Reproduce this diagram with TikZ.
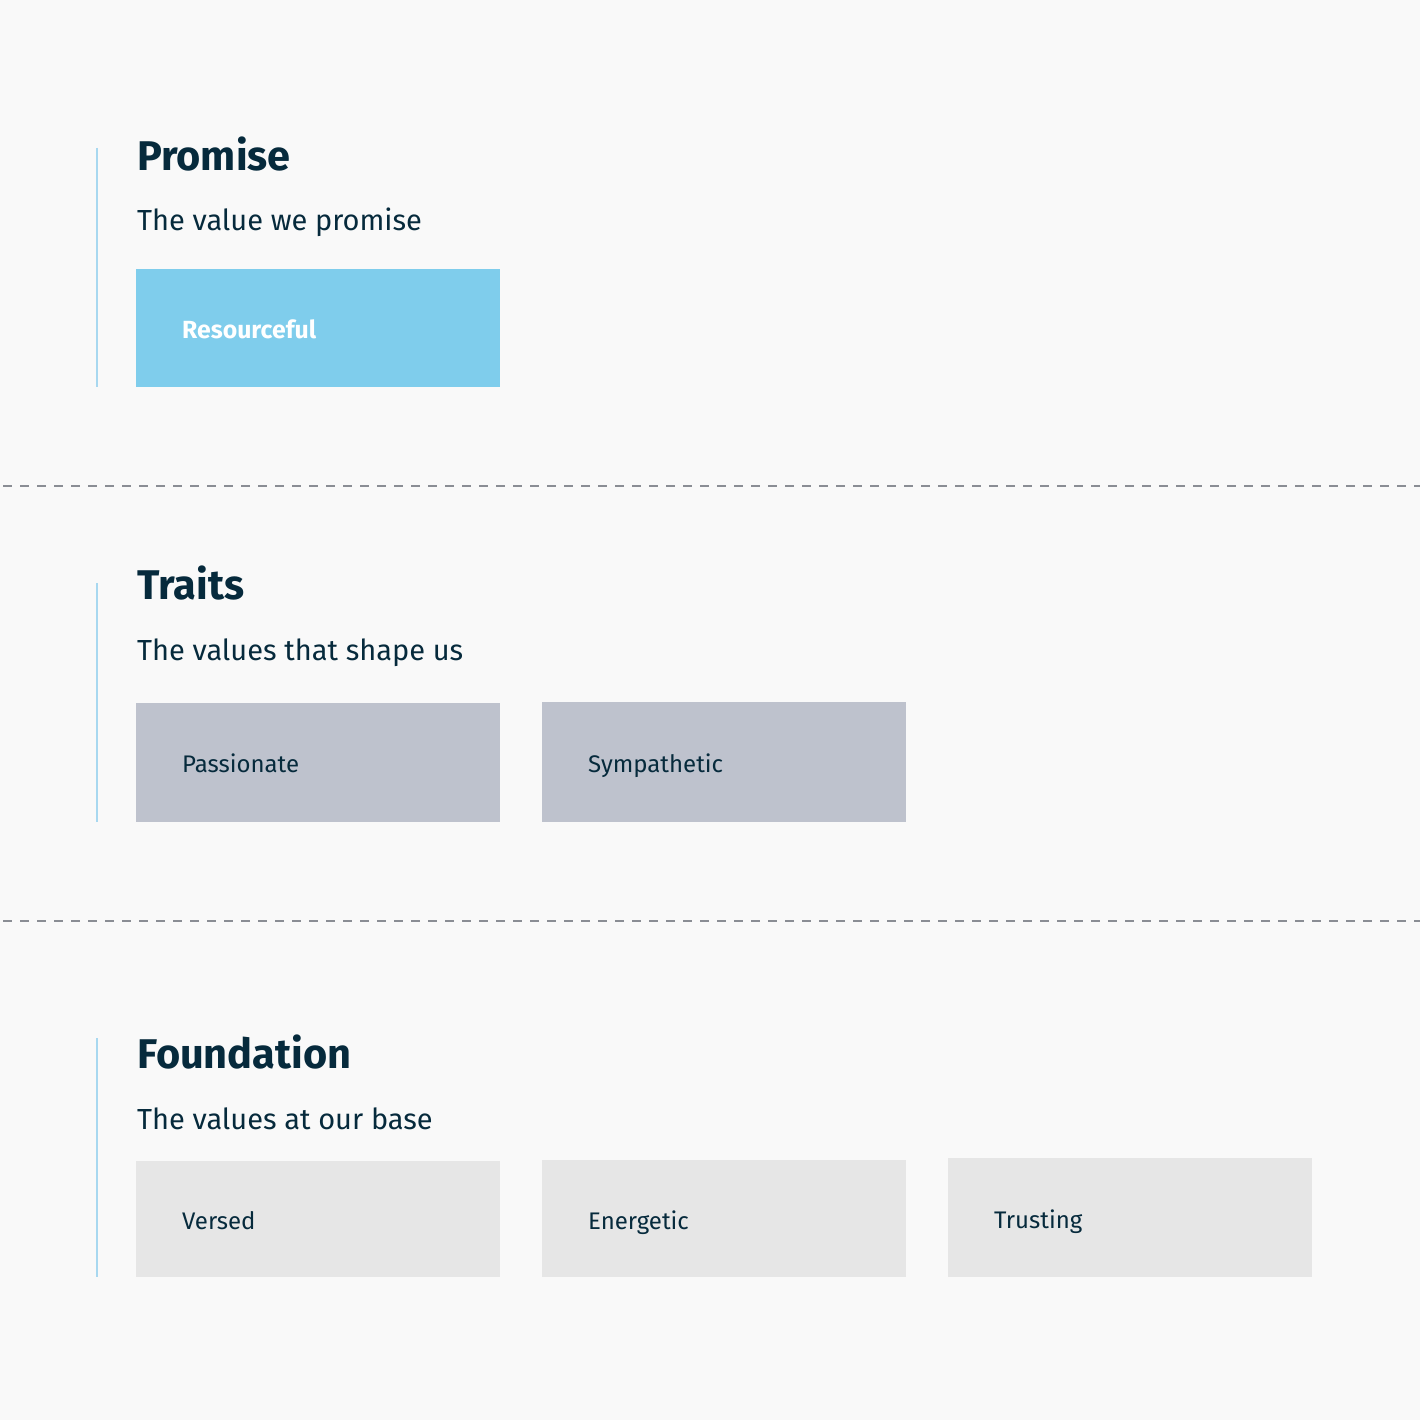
\documentclass[tikz,border=0pt]{standalone}
\usepackage{fontspec}
\setmainfont{Fira Sans}
\definecolor{bg}{HTML}{F9F9F9}
\definecolor{ink}{HTML}{062A3C}
\definecolor{bar}{HTML}{A8D8F0}
\definecolor{dashc}{HTML}{8A8D94}
\definecolor{promisec}{HTML}{7FCDEC}
\definecolor{traitc}{HTML}{BEC2CD}
\definecolor{foundc}{HTML}{E6E6E6}
\begin{document}
\begin{tikzpicture}[x=1pt,y=-1pt,
  card/.style={rectangle, inner sep=0pt, minimum width=364pt, anchor=north west, draw=none},
  heading/.style={anchor=base west, inner sep=0pt, font=\fontsize{41.5}{48}\selectfont\bfseries, text=ink},
  subt/.style={anchor=base west, inner sep=0pt, font=\fontsize{29}{34}\selectfont, text=ink},
  lbl/.style={anchor=base west, inner sep=0pt, font=\fontsize{24}{28}\selectfont, text=ink},
  sidebar/.style={draw=bar, line width=2pt},
  divider/.style={draw=dashc, line width=1.5pt, dash pattern=on 9pt off 8pt, dash phase=-3pt}]
\fill[bg] (0,0) rectangle (1420,1420);
\useasboundingbox (0,0) rectangle (1420,1420);
% side bars
\draw[sidebar] (97,148) -- (97,387);
\draw[sidebar] (97,583) -- (97,822);
\draw[sidebar] (97,1038) -- (97,1277);
% dividers
\draw[divider] (0,486) -- (1420,486);
\draw[divider] (0,921) -- (1420,921);
% Promise
\node[heading] (hp) at (137,171) {Promise};
\node[subt] (sp) at (137,231) {The value we promise};
\node[card, fill=promisec, minimum height=118pt] (b1) at (136,269) {};
\node[lbl, text=white, font=\fontsize{24.8}{28}\selectfont\bfseries] (l1) at (182,338) {Resourceful};
% Traits
\node[heading] (ht) at (137,599) {Traits};
\node[subt] (st) at (137,660) {The values that shape us};
\node[card, fill=traitc, minimum height=119pt] (b2) at (136,703) {};
\node[card, fill=traitc, minimum height=120pt] (b3) at (542,702) {};
\node[lbl] (l2) at (182,772) {Passionate};
\node[lbl] (l3) at (588,772) {Sympathetic};
% Foundation
\node[heading] (hf) at (137,1068) {Foundation};
\node[subt] (sf) at (137,1129) {The values at our base};
\node[card, fill=foundc, minimum height=116pt] (b4) at (136,1161) {};
\node[card, fill=foundc, minimum height=117pt] (b5) at (542,1160) {};
\node[card, fill=foundc, minimum height=119pt] (b6) at (948,1158) {};
\node[lbl] (l4) at (182,1229) {Versed};
\node[lbl] (l5) at (588,1229) {Energetic};
\node[lbl] (l6) at (994,1228) {Trusting};
\end{tikzpicture}
\end{document}
